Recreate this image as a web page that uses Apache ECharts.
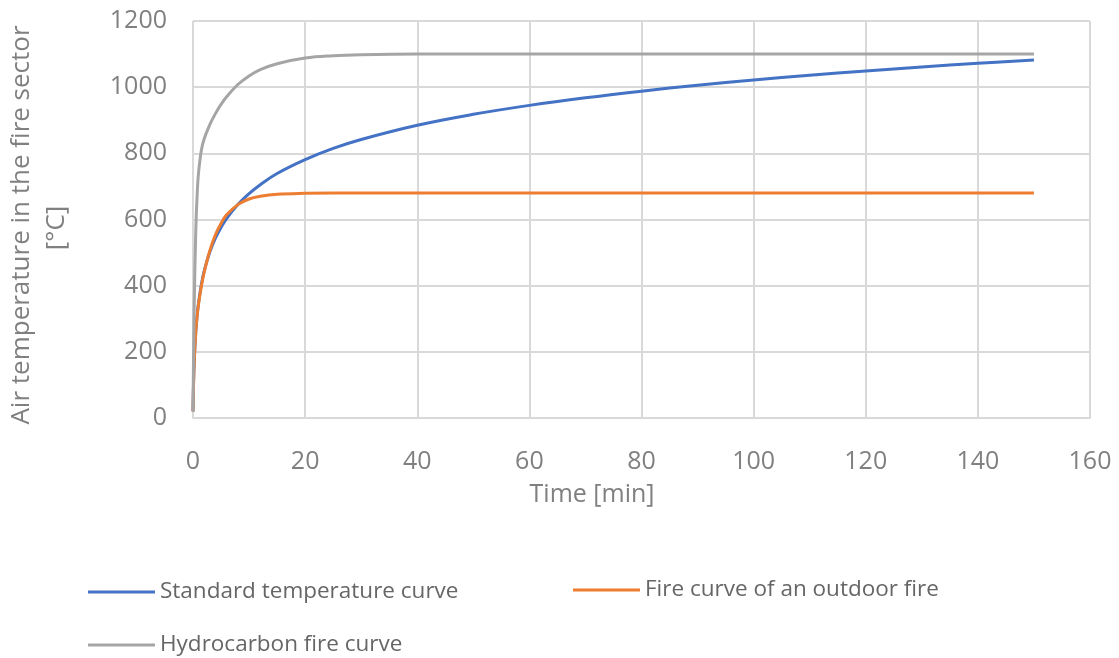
<!DOCTYPE html>
<html><head><meta charset="utf-8">
<script src="https://cdn.jsdelivr.net/npm/echarts@6/dist/echarts.min.js"></script>
<style>html,body{margin:0;padding:0;background:#fff}#c{width:1119px;height:658px}</style>
</head><body><div id="c"></div>
<script>
const time = [0, 0.1, 0.25, 0.5, 0.75, 1, 1.5, 2, 3, 4, 5, 6, 8, 10, 12, 15, 20, 25, 30, 40, 50, 60, 70, 80, 90, 100, 110, 120, 130, 140, 150];
const standard = [20, 108, 185, 261, 312, 349, 404, 445, 502, 544, 576, 603, 645, 678, 705, 739, 781, 815, 842, 885, 918, 945, 968, 988, 1006, 1022, 1036, 1049, 1061, 1072, 1082];
const outdoor = [20, 100, 182, 263, 311, 346, 399, 441, 506, 554, 588, 614, 645, 662, 670, 676, 679, 680, 680, 680, 680, 680, 680, 680, 680, 680, 680, 680, 680, 680, 680];
const hydrocarbon = [20, 187, 373, 568, 679, 743, 810, 844, 887, 920, 948, 971, 1008, 1034, 1053, 1071, 1088, 1095, 1098, 1100, 1100, 1100, 1100, 1100, 1100, 1100, 1100, 1100, 1100, 1100, 1100];
const seriesNames = ['Standard temperature curve', 'Fire curve of an outdoor fire', 'Hydrocarbon fire curve'];
const xTitle = 'Time [min]';
const yTitle1 = 'Air temperature in the fire sector';
const yTitle2 = '[°C]';

const FONT = '"Open Sans", sans-serif';
const pair = arr => time.map((t, i) => [t, arr[i]]);
const chart = echarts.init(document.getElementById('c'), null, {renderer: 'canvas'});
const legendText = {color: '#666', fontSize: 22.5, fontFamily: FONT, lineHeight: 26};
const mkLegend = (name, left, top) => ({
  data: [name], left: left, top: top, padding: 0, icon: 'rect', itemWidth: 67, itemHeight: 3,
  textStyle: legendText, selectedMode: false
});
const mkSeries = (name, data, color) => ({
  name: name, type: 'line', data: pair(data), showSymbol: false, symbol: 'none',
  smooth: 0.4, lineStyle: {color: color, width: 3}, itemStyle: {color: color}
});
chart.setOption({
  animation: false,
  grid: {left: 193, right: 29, top: 21, bottom: 240, containLabel: false},
  xAxis: {
    type: 'value', min: 0, max: 160, interval: 20,
    axisLine: {show: true, lineStyle: {color: '#d9d9d9', width: 2}},
    axisTick: {show: false},
    axisLabel: {color: '#808080', fontSize: 25, fontFamily: FONT, margin: 31},
    splitLine: {show: true, lineStyle: {color: '#d9d9d9', width: 2}}
  },
  yAxis: {
    type: 'value', min: 0, max: 1200, interval: 200,
    axisLine: {show: false}, axisTick: {show: false},
    axisLabel: {color: '#808080', fontSize: 25, fontFamily: FONT, margin: 26, formatter: v => String(v)},
    splitLine: {show: true, lineStyle: {color: '#d9d9d9', width: 2}}
  },
  legend: [
    mkLegend(seriesNames[0], 88, 579),
    mkLegend(seriesNames[1], 573, 577),
    mkLegend(seriesNames[2], 88, 632)
  ],
  graphic: [
    {type: 'text', x: 592, y: 495, style: {text: xTitle, fill: '#808080', fontSize: 25, fontFamily: FONT, align: 'center', verticalAlign: 'middle'}},
    {type: 'text', x: 22, y: 225, rotation: Math.PI / 2, style: {text: yTitle1, fill: '#808080', fontSize: 26, fontFamily: FONT, align: 'center', verticalAlign: 'middle'}},
    {type: 'text', x: 57, y: 228, rotation: Math.PI / 2, style: {text: yTitle2, fill: '#808080', fontSize: 26, fontFamily: FONT, align: 'center', verticalAlign: 'middle'}}
  ],
  series: [
    mkSeries(seriesNames[0], standard, '#4472C4'),
    mkSeries(seriesNames[1], outdoor, '#ED7D31'),
    mkSeries(seriesNames[2], hydrocarbon, '#A5A5A5')
  ]
});
</script></body></html>
